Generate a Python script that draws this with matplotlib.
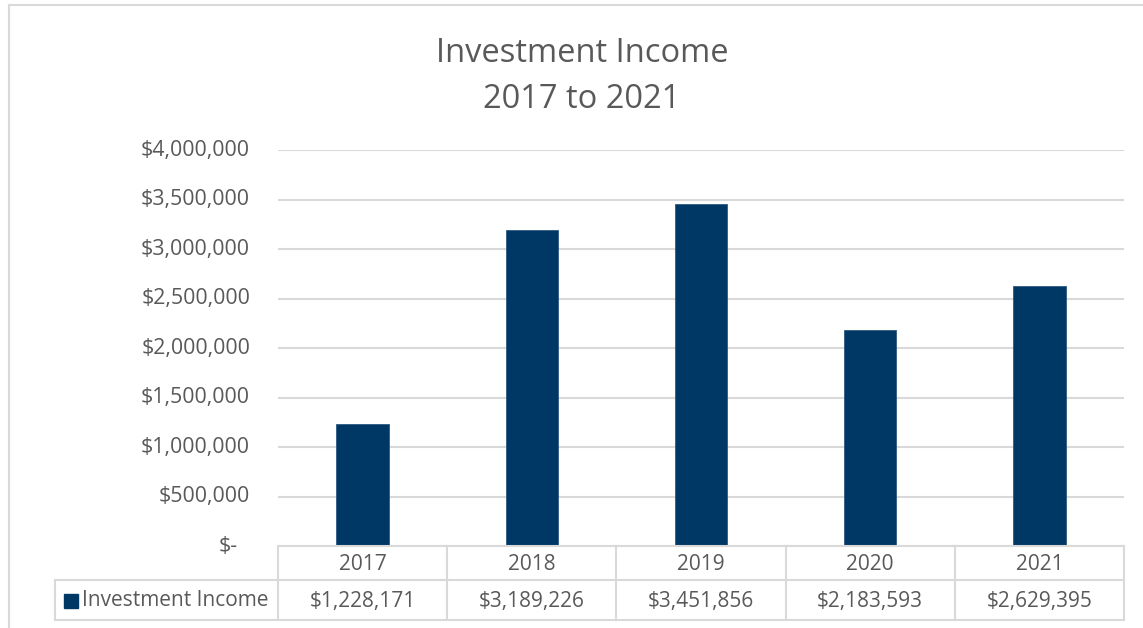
import matplotlib
matplotlib.use("Agg")
import matplotlib.pyplot as plt
from matplotlib.patches import Rectangle
from matplotlib.lines import Line2D

years = ["2017", "2018", "2019", "2020", "2021"]
income = [1228171, 3189226, 3451856, 2183593, 2629395]
series_name = "Investment Income"
title_lines = ["Investment Income", "2017 to 2021"]
ytick_vals = [0, 500000, 1000000, 1500000, 2000000, 2500000, 3000000, 3500000, 4000000]
ytick_labels = ["$-", "$500,000", "$1,000,000", "$1,500,000", "$2,000,000",
                "$2,500,000", "$3,000,000", "$3,500,000", "$4,000,000"]
table_labels = ["${:,}".format(v) for v in income]

W, H = 1143, 628
DPI = 100
BAR = "#003865"
TXT = "#595959"
GRID = "#d9d9d9"
FONT = ["Open Sans", "DejaVu Sans"]
plt.rcParams["font.family"] = FONT

fig = plt.figure(figsize=(W / DPI, H / DPI), dpi=DPI)

def fx(px):
    return px / W

def fy(py):
    return 1 - py / H

# chart border
fig.add_artist(Line2D([fx(9), fx(9)], [fy(5), fy(640)], color=GRID, lw=1.5))
fig.add_artist(Line2D([fx(9), fx(1150)], [fy(5), fy(5)], color=GRID, lw=1.5))

L, R, T, B = 278, 1124, 150, 546
ax = fig.add_axes([fx(L), fy(B), fx(R) - fx(L), fy(T) - fy(B)])
x = list(range(len(years)))
ax.bar(x, income, width=0.31, color=BAR, edgecolor="#2d5a80", linewidth=0.6, zorder=3)
ax.set_xlim(-0.5, len(years) - 0.5)
ax.set_ylim(0, 4000000)
ax.set_yticks(ytick_vals)
ax.yaxis.grid(True, color=GRID, lw=1.5, zorder=0)
ax.tick_params(left=False, bottom=False, labelleft=False, labelbottom=False)
for s in ax.spines.values():
    s.set_visible(False)

ytr = ax.get_yaxis_transform()
for v, lab in zip(ytick_vals, ytick_labels):
    xoff = -0.047 if v == 0 else -0.033
    ax.text(xoff, v, lab, transform=ytr, ha="right", va="center",
            fontsize=15.4, color=TXT)

# data table
cols = [L + (R - L) * i / len(years) for i in range(len(years) + 1)]
y0, y1, y2 = B, 580, 620
LX = 55
lw = 1.5
fig.add_artist(Line2D([fx(L), fx(R)], [fy(y0), fy(y0)], color=GRID, lw=lw))
fig.add_artist(Line2D([fx(LX), fx(R)], [fy(y1), fy(y1)], color=GRID, lw=lw))
fig.add_artist(Line2D([fx(LX), fx(R)], [fy(y2), fy(y2)], color=GRID, lw=lw))
for c in cols:
    fig.add_artist(Line2D([fx(c), fx(c)], [fy(y0), fy(y2)], color=GRID, lw=lw))
fig.add_artist(Line2D([fx(LX), fx(LX)], [fy(y1), fy(y2)], color=GRID, lw=lw))

TFS = 15
for i, (yr, lab) in enumerate(zip(years, table_labels)):
    cx = (cols[i] + cols[i + 1]) / 2
    fig.text(fx(cx), fy((y0 + y1) / 2 + 1), yr, ha="center", va="center",
             fontsize=TFS, color=TXT)
    fig.text(fx(cx), fy((y1 + y2) / 2 + 1), lab, ha="center", va="center",
             fontsize=TFS, color=TXT)

fig.add_artist(Rectangle((fx(64), fy(608)), fx(14), fy(594) - fy(608),
                         color=BAR, transform=fig.transFigure))
fig.text(fx(82), fy(601), series_name, ha="left", va="center",
         fontsize=TFS, color=TXT)

fig.text(fx(582), fy(53), title_lines[0], ha="center", va="center",
         fontsize=23.5, color=TXT)
fig.text(fx(582), fy(100), title_lines[1], ha="center", va="center",
         fontsize=23.5, color=TXT)

fig.savefig("out.png", dpi=DPI)
